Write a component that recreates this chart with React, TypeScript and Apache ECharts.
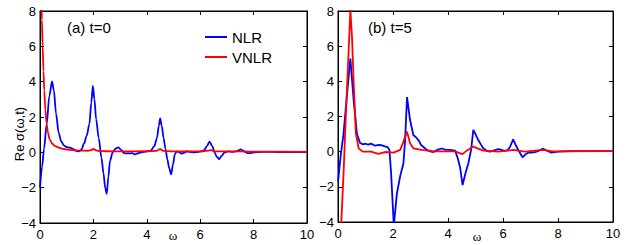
import React, { useEffect, useRef } from "react";
import * as echarts from "echarts";

type Pt = [number, number];

const xTicks = { min: 0, max: 10, interval: 2 };
const yTicks = { min: -4, max: 8, interval: 2 };
const seriesNames = ["NLR", "VNLR"];
const panelTitles = ["(a) t=0", "(b) t=5"];
const yAxisTitle = "Re σ(ω,t)";
const xAxisTitle = "ω";

// Panel (a), t = 0
const nlrT0: Pt[] = [
  [0.0, -2.0], [0.08, -0.8], [0.15, 0.2], [0.25, 1.6], [0.35, 3.2], [0.45, 4.02], [0.52, 3.5],
  [0.6, 2.2], [0.7, 1.1], [0.8, 0.6], [0.9, 0.38], [1.0, 0.3], [1.12, 0.27], [1.25, 0.18],
  [1.35, 0.08], [1.45, 0.05], [1.55, 0.15], [1.65, 0.5], [1.75, 0.95], [1.85, 1.6], [1.92, 2.8],
  [1.98, 3.76], [2.04, 3.0], [2.1, 1.9], [2.2, 0.8], [2.3, -0.3], [2.38, -1.2], [2.44, -2.0],
  [2.5, -2.35], [2.56, -1.4], [2.62, -0.5], [2.72, 0.0], [2.82, 0.2], [2.93, 0.28], [3.05, 0.12],
  [3.15, -0.05], [3.3, -0.06], [3.45, -0.05], [3.55, -0.12], [3.65, -0.06], [3.8, 0.0], [4.0, 0.05],
  [4.15, 0.1], [4.28, 0.35], [4.38, 0.8], [4.45, 1.5], [4.5, 1.92], [4.56, 1.5], [4.63, 0.8],
  [4.7, 0.2], [4.77, -0.4], [4.84, -0.9], [4.91, -1.25], [4.98, -0.7], [5.05, -0.1], [5.12, 0.05],
  [5.2, 0.02], [5.3, -0.07], [5.4, -0.02], [5.5, 0.06], [5.6, 0.03], [5.75, 0.0], [5.9, 0.02],
  [6.05, 0.05], [6.15, 0.12], [6.25, 0.35], [6.35, 0.6], [6.45, 0.35], [6.54, 0.0], [6.62, -0.25],
  [6.71, -0.38], [6.8, -0.2], [6.92, 0.0], [7.05, 0.05], [7.2, 0.03], [7.35, 0.05], [7.45, 0.12],
  [7.52, 0.17], [7.62, 0.08], [7.75, -0.03], [7.85, -0.05], [8.0, 0.0], [8.3, 0.03], [9.0, 0.02],
  [10, 0.02],
];
const vnlrT0: Pt[] = [
  [0.02, 14], [0.05, 9.5], [0.07, 7.5], [0.1, 6.0], [0.13, 4.6], [0.16, 3.5], [0.2, 2.4],
  [0.25, 1.6], [0.3, 1.1], [0.36, 0.75], [0.45, 0.5], [0.55, 0.37], [0.7, 0.27], [0.85, 0.2],
  [1.0, 0.16], [1.25, 0.12], [1.5, 0.1], [1.8, 0.09], [1.92, 0.12], [2.0, 0.2], [2.08, 0.12],
  [2.2, 0.08], [2.5, 0.06], [3.0, 0.05], [4.0, 0.06], [4.35, 0.08], [4.5, 0.18], [4.62, 0.08],
  [5.0, 0.05], [6.0, 0.05], [6.3, 0.1], [6.4, 0.12], [6.55, 0.05], [7.5, 0.05], [8.0, 0.04],
  [10, 0.03],
];

// Panel (b), t = 5
const nlrT5: Pt[] = [
  [0.0, -1.7], [0.1, -0.2], [0.2, 1.0], [0.33, 3.3], [0.45, 5.3], [0.57, 2.9], [0.69, 1.0],
  [0.8, 0.5], [0.9, 0.42], [1.0, 0.45], [1.1, 0.4], [1.2, 0.46], [1.35, 0.34], [1.5, 0.38],
  [1.6, 0.36], [1.7, 0.3], [1.8, 0.26], [1.87, 0.1], [1.93, -1.2], [2.03, -4.2], [2.14, -2.4],
  [2.26, -1.4], [2.38, -0.66], [2.44, 0.65], [2.51, 3.1], [2.62, 1.8], [2.74, 0.95], [2.86, 0.78],
  [2.95, 0.6], [3.02, 0.38], [3.12, 0.25], [3.23, 0.1], [3.35, 0.02], [3.47, -0.02], [3.6, 0.1],
  [3.77, 0.18], [3.9, 0.12], [4.07, 0.1], [4.26, 0.06], [4.36, -0.4], [4.44, -0.9], [4.53, -1.9],
  [4.64, -1.2], [4.74, -0.66], [4.84, 0.1], [4.92, 1.24], [5.0, 1.0], [5.1, 0.66], [5.2, 0.4],
  [5.28, 0.2], [5.4, 0.05], [5.53, 0.0], [5.68, 0.08], [5.83, 0.14], [5.95, 0.1], [6.05, 0.05],
  [6.15, 0.08], [6.25, 0.25], [6.37, 0.7], [6.47, 0.35], [6.57, 0.05], [6.71, -0.32], [6.82, -0.15],
  [6.92, -0.06], [7.05, -0.05], [7.16, -0.03], [7.3, 0.05], [7.46, 0.17], [7.6, 0.05], [7.76, -0.05],
  [8.0, 0.0], [8.5, 0.03], [10, 0.03],
];
const vnlrT5: Pt[] = [
  [0.0, -8.5], [0.12, -4.0], [0.2, -1.3], [0.3, 2.6], [0.38, 5.5], [0.45, 8.05], [0.51, 6.5],
  [0.57, 3.9], [0.65, 1.04], [0.75, 0.19], [0.9, 0.0], [1.2, 0.0], [1.47, -0.13], [1.71, -0.02],
  [2.02, -0.05], [2.26, 0.1], [2.38, 0.57], [2.51, 1.14], [2.62, 0.48], [2.74, 0.19], [3.04, 0.1],
  [3.5, 0.02], [4.25, 0.02], [4.52, -0.14], [4.72, 0.1], [4.92, 0.29], [5.28, 0.06], [5.83, 0.0],
  [6.37, 0.1], [6.8, 0.0], [7.46, 0.1], [7.8, 0.02], [10, 0.03],
];

const BLUE = "#0000ff";
const RED = "#ff0000";
const FONT = "'Liberation Sans', Arial, sans-serif";

export default function App() {
  const ref = useRef<HTMLDivElement>(null);

  useEffect(() => {
    if (!ref.current) return;
    const chart = echarts.init(ref.current, undefined, { renderer: "svg" });

    const grids = [
      { left: 40, top: 11, width: 267, height: 212 },
      { left: 338, top: 11, width: 275, height: 211 },
    ];

    const xAxes: any[] = [];
    const yAxes: any[] = [];
    grids.forEach((_, gi) => {
      const common = {
        type: "value",
        gridIndex: gi,
        axisLine: { show: true, onZero: false, lineStyle: { color: "#000", width: 1 } },
        axisTick: { show: true, inside: true, length: 4, lineStyle: { color: "#000" } },
        splitLine: { show: false },
      };
      xAxes.push({
        ...common,
        ...xTicks,
        position: "bottom",
        axisLabel: { show: true, color: "#000", fontSize: 13, fontFamily: FONT, margin: 5 },
      });
      xAxes.push({
        ...common,
        ...xTicks,
        position: "top",
        axisLabel: { show: false },
      });
      yAxes.push({
        ...common,
        ...yTicks,
        position: "left",
        axisLabel: {
          show: true,
          color: "#000",
          fontSize: 13,
          fontFamily: FONT,
          margin: 4,
          formatter: (v: number) => (v < 0 ? "\u2212" + Math.abs(v) : String(v)),
        },
      });
      yAxes.push({
        ...common,
        ...yTicks,
        position: "right",
        axisLabel: { show: false },
      });
    });

    const mk = (name: string, data: Pt[], color: string, gi: number, smooth: number | boolean) => ({
      type: "line",
      name,
      data,
      xAxisIndex: gi * 2,
      yAxisIndex: gi * 2,
      showSymbol: false,
      symbol: "none",
      smooth,
      smoothMonotone: "x",
      clip: true,
      color,
      lineStyle: { color, width: 1.8 },
      z: color === RED ? 3 : 2,
    });

    const option: any = {
      animation: false,
      backgroundColor: "#fff",
      grid: grids.map((g) => ({ ...g, show: true, borderColor: "#000", borderWidth: 1, backgroundColor: "transparent" })),
      xAxis: xAxes,
      yAxis: yAxes,
      legend: {
        data: seriesNames,
        orient: "vertical",
        left: 205,
        top: 29,
        padding: 0,
        itemGap: 4,
        itemWidth: 22,
        itemHeight: 2,
        icon: "rect",
        textStyle: { fontSize: 15, fontFamily: FONT, color: "#000", lineHeight: 16 },
      },
      series: [
        mk(seriesNames[0], nlrT0, BLUE, 0, 0.3),
        mk(seriesNames[1], vnlrT0, RED, 0, 0.3),
        mk(seriesNames[0], nlrT5, BLUE, 1, false),
        mk(seriesNames[1], vnlrT5, RED, 1, false),
      ],
      graphic: [
        {
          type: "text",
          x: 67,
          y: 27.5,
          style: { text: panelTitles[0], fontSize: 15, fontFamily: FONT, fill: "#000", align: "left", verticalAlign: "middle" },
        },
        {
          type: "text",
          x: 368,
          y: 27.5,
          style: { text: panelTitles[1], fontSize: 15, fontFamily: FONT, fill: "#000", align: "left", verticalAlign: "middle" },
        },
        {
          type: "text",
          x: 19,
          y: 134,
          rotation: Math.PI / 2,
          style: { text: yAxisTitle, fontSize: 13, fontFamily: FONT, fill: "#000", align: "center", verticalAlign: "middle" },
        },
        {
          type: "text",
          x: 173,
          y: 235,
          style: { text: xAxisTitle, fontSize: 13, fontFamily: "'Liberation Serif', serif", fill: "#000", align: "center", verticalAlign: "middle" },
        },
        {
          type: "text",
          x: 477,
          y: 236,
          style: { text: xAxisTitle, fontSize: 13, fontFamily: "'Liberation Serif', serif", fill: "#000", align: "center", verticalAlign: "middle" },
        },
      ],
    };

    chart.setOption(option);
    return () => chart.dispose();
  }, []);

  return (
    <div
      ref={ref}
      style={{ position: "fixed", left: 0, top: 0, width: 635, height: 245, background: "#fff" }}
    />
  );
}
